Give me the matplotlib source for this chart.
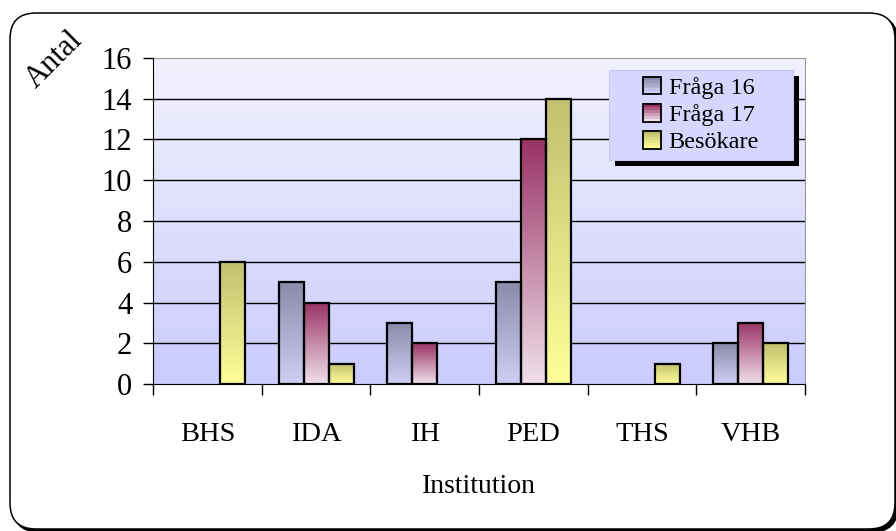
import numpy as np
import matplotlib
matplotlib.use("Agg")
from matplotlib import pyplot as plt
from matplotlib.patches import FancyBboxPatch, Patch, Rectangle
from matplotlib.legend_handler import HandlerBase
from matplotlib.colors import LinearSegmentedColormap
from matplotlib.transforms import IdentityTransform

# ---------------- data ----------------
categories = ["BHS", "IDA", "IH", "PED", "THS", "VHB"]
series_names = ["Fråga 16", "Fråga 17", "Besökare"]
fraga16 = [0, 5, 3, 5, 0, 2]
fraga17 = [0, 4, 2, 12, 0, 3]
besokare = [6, 1, 0, 14, 1, 2]
y_ticks = [0, 2, 4, 6, 8, 10, 12, 14, 16]

# gradient colours (top, bottom) per series
grad_colors = [("#8a8aaa", "#cfcff6"), ("#993366", "#f0e0ea"), ("#c0c070", "#ffff99")]

plt.rcParams["font.family"] = ["Liberation Serif", "DejaVu Serif"]


class GradientHandler(HandlerBase):
    # small square with vertical gradient, like the bars
    def create_artists(self, legend, orig_handle, xdescent, ydescent, width, height, fontsize, trans):
        top, bottom = orig_handle.get_label_colors()
        cmap = LinearSegmentedColormap.from_list("h", [bottom, top])
        side = min(width, height)
        x0 = -xdescent + (width - side) / 2
        y0 = -ydescent + (height - side) / 2
        arts = []
        n = 6
        for k in range(n):
            arts.append(Rectangle((x0, y0 + side * k / n), side, side / n + 0.3,
                                  facecolor=cmap(k / (n - 1)), edgecolor="none", transform=trans))
        arts.append(Rectangle((x0, y0), side, side, facecolor="none", edgecolor="black",
                              lw=1.3, transform=trans))
        return arts


class GradPatch(Patch):
    def __init__(self, top, bottom):
        super().__init__()
        self._cols = (top, bottom)

    def get_label_colors(self):
        return self._cols


fig = plt.figure(figsize=(8.96, 5.31), dpi=100)
fig.patch.set_facecolor("white")

# outer rounded frame with shadow (pixel coords)
shadow = FancyBboxPatch((13, -1), 885, 516, boxstyle="round,pad=0,rounding_size=26",
                        transform=IdentityTransform(), facecolor="black", edgecolor="black",
                        lw=1, zorder=-3)
frame = FancyBboxPatch((10, 2), 885, 516, boxstyle="round,pad=0,rounding_size=26",
                       transform=IdentityTransform(), facecolor="white", edgecolor="black",
                       lw=1.1, zorder=-2)
fig.patches.extend([shadow, frame])

ax = fig.add_axes([0.1708, 0.2768, 0.7277, 0.614])
ax.set_facecolor("none")

# background gradient of the plot area
bg_cmap = LinearSegmentedColormap.from_list("bg", ["#cbcbfd", "#f2f2fe"])
ax.imshow(np.linspace(0, 1, 256).reshape(-1, 1), cmap=bg_cmap, origin="lower",
          extent=[0, 1, 0, 1], transform=ax.transAxes, aspect="auto", zorder=0)

# grid lines
for yv in y_ticks[1:-1]:
    ax.axhline(yv, color="black", lw=1.0, zorder=1)

x = np.arange(len(categories))
bar_w = 0.23
all_series = [fraga16, fraga17, besokare]
grad = np.linspace(0, 1, 128).reshape(-1, 1)
for i, vals in enumerate(all_series):
    cmap = LinearSegmentedColormap.from_list("g%d" % i, [grad_colors[i][1], grad_colors[i][0]])
    offs = (i - 1) * bar_w
    for xi, v in zip(x, vals):
        if v <= 0:
            continue
        x0 = xi + offs - bar_w / 2
        ax.imshow(grad, cmap=cmap, origin="lower", extent=[x0, x0 + bar_w, 0, v],
                  aspect="auto", zorder=2)
        ax.bar(xi + offs, v, width=bar_w, facecolor="none", edgecolor="black", lw=1.6, zorder=3)

ax.set_xlim(-0.5, len(categories) - 0.5)
ax.set_ylim(0, 16)
ax.set_yticks(y_ticks)
ax.set_yticklabels([str(t) for t in y_ticks], fontsize=22)
ax.tick_params(axis="y", direction="out", length=7, width=1, pad=8)

ax.set_xticks(x)
ax.set_xticklabels(categories, fontsize=20.5)
ax.tick_params(axis="x", which="major", length=0, pad=27)
ax.set_xticks(np.arange(-0.5, len(categories)), minor=True)
ax.tick_params(axis="x", which="minor", direction="out", length=8, width=1)

ax.spines["left"].set_color("black")
ax.spines["bottom"].set_color("black")
ax.spines["top"].set_color("#999999")
ax.spines["right"].set_color("#999999")
ax.spines["left"].set_zorder(4)
ax.spines["bottom"].set_zorder(4)

ax.set_xlabel("Institution", fontsize=20, labelpad=20)
fig.text(0.061, 0.887, "Antal", rotation=45, fontsize=22, ha="center", va="center")

# legend box with hard black shadow (axes coords)
bx0, bx1, by0, by1 = 0.699, 0.982, 0.687, 0.963
dx, dy = 6 / 652, 6 / 326
ax.add_patch(Rectangle((bx0 + dx, by0 - dy), bx1 - bx0, by1 - by0, transform=ax.transAxes,
                       facecolor="black", edgecolor="none", zorder=5))
ax.add_patch(Rectangle((bx0, by0), bx1 - bx0, by1 - by0, transform=ax.transAxes,
                       facecolor="#d6d6ff", edgecolor="#c8c8f0", lw=0.8, zorder=5))

handles = [GradPatch(t, b) for t, b in grad_colors]
leg = ax.legend(handles, series_names, loc="center",
                bbox_to_anchor=((bx0 + bx1) / 2, (by0 + by1) / 2),
                handler_map={GradPatch: GradientHandler()},
                fontsize=17.5, frameon=False, handlelength=0.75, handleheight=0.75,
                handletextpad=0.3, labelspacing=0.2, borderpad=0.2)
leg.set_zorder(6)

fig.savefig("out.png", dpi=100)
